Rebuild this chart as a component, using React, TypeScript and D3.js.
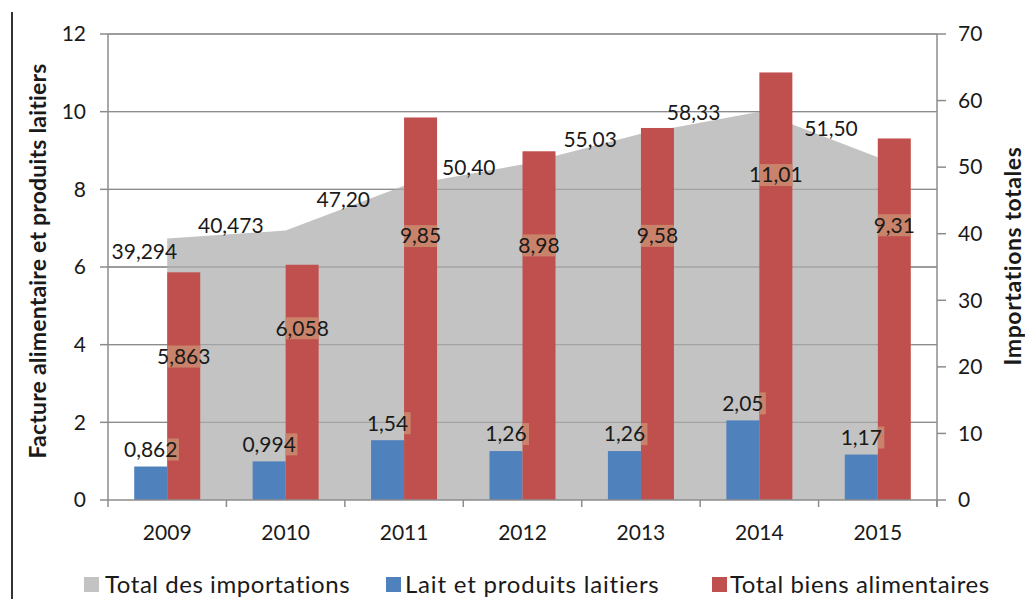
import React from "react";
import * as d3 from "d3";

const years = ["2009", "2010", "2011", "2012", "2013", "2014", "2015"];
const totalImports = [39.294, 40.473, 47.2, 50.4, 55.03, 58.33, 51.5];
const totalImportsLabels = ["39,294", "40,473", "47,20", "50,40", "55,03", "58,33", "51,50"];
const dairy = [0.862, 0.994, 1.54, 1.26, 1.26, 2.05, 1.17];
const dairyLabels = ["0,862", "0,994", "1,54", "1,26", "1,26", "2,05", "1,17"];
const food = [5.863, 6.058, 9.85, 8.98, 9.58, 11.01, 9.31];
const foodLabels = ["5,863", "6,058", "9,85", "8,98", "9,58", "11,01", "9,31"];
const leftTicks = [0, 2, 4, 6, 8, 10, 12];
const rightTicks = [0, 10, 20, 30, 40, 50, 60, 70];

// label placement (layout only)
const areaLabelOffsets: [number, number][] = [
  [10, 13], [-22, -5], [-34, 14], [-27, 3], [-24, 6], [-39, 1], [-20, -29],
];
const foodLabelFrac = [0.63, 0.73, 0.69, 0.73, 0.71, 0.76, 0.76];

const W = 1025;
const H = 599;
const left = 108;
const right = 937;
const top = 34;
const bottom = 500;
const FONT = "Lato, 'Open Sans', sans-serif";
const TXT = "#1a1a1a";

export default function App() {
  const x = d3.scaleBand<string>().domain(years).range([left, right]).padding(0);
  const yL = d3.scaleLinear().domain([0, 12]).range([bottom, top]);
  const yR = d3.scaleLinear().domain([0, 70]).range([bottom, top]);
  const bw = 33;
  const cx = (i: number) => (x(years[i]) as number) + x.bandwidth() / 2;

  const area = d3
    .area<number>()
    .x((_, i) => cx(i))
    .y0(yR(0))
    .y1((d) => yR(d))
    .curve(d3.curveLinear);

  const fs = 21;
  return (
    <svg width={W} height={H} style={{ position: "absolute", left: 0, top: 0, background: "#fff" }}
      fontFamily={FONT}>
      <line x1={12} x2={12} y1={12} y2={H} stroke="#333" strokeWidth={2} />
      {/* gridlines */}
      {leftTicks.filter((t) => t > 0).map((t) => (
        <line key={"g" + t} x1={left} x2={right} y1={yL(t)} y2={yL(t)} stroke="#8c8c8c" strokeWidth={1.3} />
      ))}
      {/* area */}
      <path d={area(totalImports) || ""} fill="#c3c3c3" />
      {/* gridlines over area visible */}
      {leftTicks.filter((t) => t > 0).map((t) => (
        <line key={"g2" + t} x1={left} x2={right} y1={yL(t)} y2={yL(t)} stroke="#8c8c8c" strokeOpacity={0.6} strokeWidth={1.3} />
      ))}
      {/* bars */}
      {years.map((yr, i) => (
        <g key={yr}>
          <rect x={cx(i) - bw} y={yL(dairy[i])} width={bw} height={yL(0) - yL(dairy[i])} fill="#4f81bd" />
          <rect x={cx(i)} y={yL(food[i])} width={bw} height={yL(0) - yL(food[i])} fill="#c0504d" />
        </g>
      ))}
      {/* axes */}
      <line x1={left} x2={left} y1={top} y2={bottom + 7} stroke="#8c8c8c" strokeWidth={1.5} />
      <line x1={right} x2={right} y1={top} y2={bottom + 7} stroke="#8c8c8c" strokeWidth={1.5} />
      <line x1={left} x2={right} y1={bottom} y2={bottom} stroke="#8c8c8c" strokeWidth={1.5} />
      {leftTicks.map((t) => (
        <g key={"lt" + t}>
          <line x1={left - 8} x2={left} y1={yL(t)} y2={yL(t)} stroke="#8c8c8c" strokeWidth={1.5} />
          <text x={86} y={yL(t)} dy="0.35em" textAnchor="end" fontSize={fs} fill={TXT}>{t}</text>
        </g>
      ))}
      {rightTicks.map((t) => (
        <g key={"rt" + t}>
          <line x1={right} x2={right + 9} y1={yR(t)} y2={yR(t)} stroke="#8c8c8c" strokeWidth={1.5} />
          <text x={958} y={yR(t)} dy="0.35em" textAnchor="start" fontSize={fs} fill={TXT}>{t}</text>
        </g>
      ))}
      {years.map((yr, i) => (
        <g key={"xt" + yr}>
          <line x1={(x(yr) as number) + x.bandwidth()} x2={(x(yr) as number) + x.bandwidth()} y1={bottom} y2={bottom + 7}
            stroke="#8c8c8c" strokeWidth={1.5} />
          <text x={cx(i)} y={533} dy="0.35em" textAnchor="middle" fontSize={fs} fill={TXT}>{yr}</text>
        </g>
      ))}
      {/* area labels */}
      {totalImports.map((v, i) => (
        <text key={"al" + i} x={cx(i) + areaLabelOffsets[i][0]} y={yR(v) + areaLabelOffsets[i][1]} dy="0.35em"
          textAnchor="end" fontSize={fs} fill={TXT}>{totalImportsLabels[i]}</text>
      ))}
      {/* food labels */}
      {food.map((v, i) => {
        const ly = yL(v * foodLabelFrac[i]);
        return (
          <g key={"fl" + i}>
            <rect x={cx(i)} y={ly - 11} width={bw} height={22} fill="#c9836b" />
            <text x={cx(i) + bw / 2} y={ly} dy="0.35em" textAnchor="middle" fontSize={fs} fill={TXT}>{foodLabels[i]}</text>
          </g>
        );
      })}
      {/* dairy labels */}
      {dairy.map((v, i) => {
        const ly = yL(v) - 17;
        const tw = dairyLabels[i].length * 10.5;
        const over = cx(i) - bw / 2 + tw / 2 - cx(i);
        return (
          <g key={"dl" + i}>
            {over > 0 && (yL(food[i]) < ly - 11) && (
              <rect x={cx(i)} y={ly - 11} width={over + 2} height={22} fill="#c9836b" />
            )}
            <text x={cx(i) - bw / 2} y={ly} dy="0.35em" textAnchor="middle" fontSize={fs} fill={TXT}>{dairyLabels[i]}</text>
          </g>
        );
      })}
      {/* axis titles */}
      <text transform={`translate(38,261) rotate(-90)`} textAnchor="middle" dy="0.35em" fontSize={23}
        letterSpacing={0.2} fontWeight="bold" fill={TXT}>Facture alimentaire et produits laitiers</text>
      <text transform={`translate(1013,256) rotate(-90)`} textAnchor="middle" dy="0.35em" fontSize={23}
        letterSpacing={0.6} fontWeight="bold" fill={TXT}>Importations totales</text>
      {/* legend */}
      <rect x={84} y={577} width={15} height={15} fill="#c3c3c3" />
      <text x={105} y={585} dy="0.35em" fontSize={24} letterSpacing={0.55} fill={TXT}>Total des importations</text>
      <rect x={386} y={577} width={15} height={15} fill="#4f81bd" />
      <text x={405} y={585} dy="0.35em" fontSize={24} letterSpacing={0.8} fill={TXT}>Lait et produits laitiers</text>
      <rect x={712} y={577} width={15} height={15} fill="#c0504d" />
      <text x={730} y={585} dy="0.35em" fontSize={24} letterSpacing={0.6} fill={TXT}>Total biens alimentaires</text>
    </svg>
  );
}
